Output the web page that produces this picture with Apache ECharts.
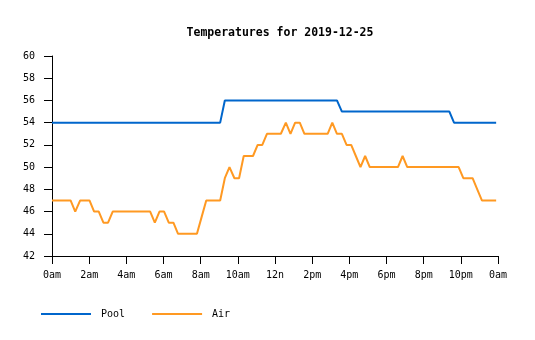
<!DOCTYPE html>
<html>
<head>
<meta charset="utf-8">
<script src="https://cdn.jsdelivr.net/npm/echarts@6/dist/echarts.min.js"></script>
<style>
  html, body { margin: 0; padding: 0; background: #ffffff; }
  #chart { width: 535px; height: 340px; }
</style>
</head>
<body>
<div id="chart"></div>
<script>
// Logger sample times (HH:MM) for 2019-12-25
const times = [
  '00:00','00:15','00:30','00:45','01:00','01:15','01:31','01:46',
  '02:01','02:16','02:31','02:46','03:01','03:16','03:31','03:46',
  '04:01','04:17','04:32','04:47','05:02','05:17','05:32','05:47',
  '06:02','06:17','06:32','06:47','07:03','07:18','07:33','07:48',
  '08:03','08:18','08:33','08:48','09:03','09:18','09:33','09:49',
  '10:04','10:19','10:34','10:49','11:04','11:19','11:34','11:49',
  '12:04','12:19','12:35','12:50','13:05','13:20','13:35','13:50',
  '14:05','14:20','14:35','14:50','15:05','15:20','15:36','15:51',
  '16:06','16:21','16:36','16:51','17:06','17:21','17:36','17:51',
  '18:06','18:22','18:37','18:52','19:07','19:22','19:37','19:52',
  '20:07','20:22','20:37','20:52','21:08','21:23','21:38','21:53',
  '22:08','22:23','22:38','22:53','23:08','23:23','23:38','23:54'
];

// Pool temperature readings
const pool = [
  54,54,54,54,54,54,54,54,
  54,54,54,54,54,54,54,54,
  54,54,54,54,54,54,54,54,
  54,54,54,54,54,54,54,54,
  54,54,54,54,54,56,56,56,
  56,56,56,56,56,56,56,56,
  56,56,56,56,56,56,56,56,
  56,56,56,56,56,56,55,55,
  55,55,55,55,55,55,55,55,
  55,55,55,55,55,55,55,55,
  55,55,55,55,55,55,54,54,
  54,54,54,54,54,54,54,54
];

// Air temperature readings
const air = [
  47,47,47,47,47,46,47,47,
  47,46,46,45,45,46,46,46,
  46,46,46,46,46,46,45,46,
  46,45,45,44,44,44,44,44,
  45.5,47,47,47,47,49,50,49,
  49,51,51,51,52,52,53,53,
  53,53,54,53,54,54,53,53,
  53,53,53,53,54,53,53,52,
  52,51,50,51,50,50,50,50,
  50,50,50,51,50,50,50,50,
  50,50,50,50,50,50,50,50,
  49,49,49,48,47,47,47,47
];

// Labels for the 2-hour ticks on the time axis
const hourLabels = ['0am','2am','4am','6am','8am','10am','12n','2pm','4pm','6pm','8pm','10pm','0am'];

const FONT = '"DejaVu Sans Mono", "Liberation Mono", monospace';

function toHours(t) {
  const parts = t.split(':');
  return Number(parts[0]) + Number(parts[1]) / 60;
}

function pairs(values) {
  return values.map((v, i) => [toHours(times[i]), v]);
}

const chart = echarts.init(document.getElementById('chart'), null, { renderer: 'canvas' });

chart.setOption({
  animation: false,
  backgroundColor: '#ffffff',
  title: {
    text: 'Temperatures for 2019-12-25',
    left: 275,
    top: 22,
    textAlign: 'center',
    textStyle: {
      fontFamily: FONT,
      fontSize: 11.5,
      fontWeight: 'bold',
      color: '#000000'
    }
  },
  legend: {
    left: 41,
    top: 309,
    padding: 0,
    icon: 'rect',
    itemWidth: 50,
    itemHeight: 2,
    itemGap: 27,
    textStyle: {
      fontFamily: FONT,
      fontSize: 10,
      color: '#000000',
      padding: [0, 0, 0, 5]
    },
    data: ['Pool', 'Air']
  },
  grid: {
    left: 52,
    right: 37,
    top: 56,
    height: 200
  },
  xAxis: {
    type: 'value',
    min: 0,
    max: 24,
    interval: 2,
    axisLine: { lineStyle: { color: '#000000', width: 1 } },
    axisTick: { show: true, length: 8, lineStyle: { color: '#000000' } },
    splitLine: { show: false },
    axisLabel: {
      margin: 14,
      fontFamily: FONT,
      fontSize: 10,
      color: '#000000',
      formatter: function (v) { return hourLabels[Math.round(v / 2)]; }
    }
  },
  yAxis: {
    type: 'value',
    min: 42,
    max: 60,
    interval: 2,
    axisLine: { show: true, lineStyle: { color: '#000000', width: 1 } },
    axisTick: { show: true, length: 8, lineStyle: { color: '#000000' } },
    splitLine: { show: false },
    axisLabel: {
      margin: 17,
      fontFamily: FONT,
      fontSize: 10,
      color: '#000000'
    }
  },
  series: [
    {
      name: 'Pool',
      type: 'line',
      data: pairs(pool),
      showSymbol: false,
      symbol: 'none',
      color: '#0066cc',
      lineStyle: { color: '#0066cc', width: 2 }
    },
    {
      name: 'Air',
      type: 'line',
      data: pairs(air),
      showSymbol: false,
      symbol: 'none',
      color: '#ff9922',
      lineStyle: { color: '#ff9922', width: 2 }
    }
  ]
});
</script>
</body>
</html>
